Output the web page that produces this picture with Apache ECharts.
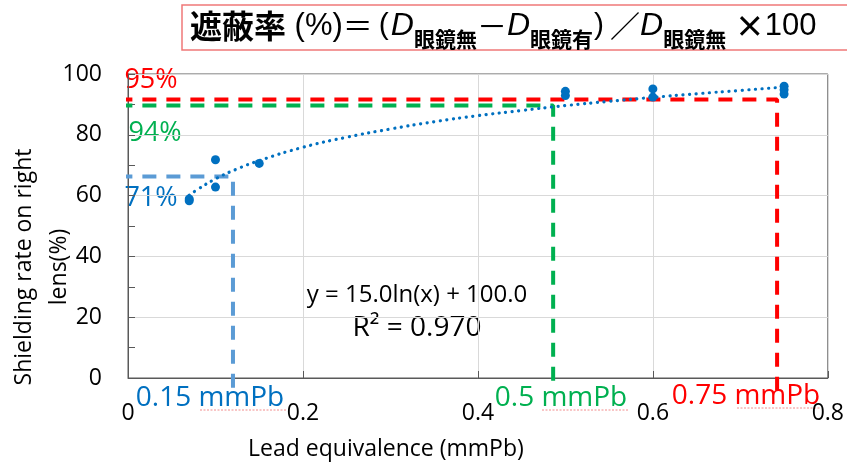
<!DOCTYPE html>
<html>
<head>
<meta charset="utf-8">
<script src="https://cdn.jsdelivr.net/npm/echarts@6/dist/echarts.min.js"></script>
<style>
  html, body { margin: 0; padding: 0; background: #fff; }
  #chart { width: 847px; height: 466px; }
</style>
</head>
<body>
<div id="chart"></div>
<script>
const chartElement = document.getElementById('chart');
const myChart = echarts.init(chartElement);

// measured points (lead equivalence, shielding rate)
const leadX = [0.07, 0.07, 0.1, 0.1, 0.15, 0.5, 0.5, 0.6, 0.6, 0.75, 0.75, 0.75];
const shieldY = [58.3, 58.9, 71.8, 62.8, 70.6, 94.3, 92.9, 95.1, 92.4, 96.0, 94.8, 93.4];

// log trendline
const trendX = [0.07, 0.08, 0.1, 0.125, 0.15, 0.2, 0.25, 0.3, 0.35, 0.4, 0.45, 0.5, 0.55, 0.6, 0.65, 0.7, 0.75];
const trendY = [60.1, 62.1, 65.5, 68.8, 71.5, 75.9, 79.2, 81.9, 84.3, 86.3, 88.0, 89.6, 91.0, 92.3, 93.5, 94.6, 95.7];

// dashed guide lines: level (%) and lead (mmPb), red / green / blue
const guideLevels = [91.6, 89.6, 66.3];
const guideLeads = [0.742, 0.486, 0.12];
const guideColors = ['#FF0000', '#00B050', '#5B9BD5'];

const xTicks = [0, 0.2, 0.4, 0.6, 0.8];
const yTicks = [0, 20, 40, 60, 80, 100];

const font = '"Open Sans", sans-serif';
const cjk = '"Noto Sans CJK JP", sans-serif';
const latin = '"Liberation Sans", sans-serif';

const guideSeries = guideLevels.map((lvl, i) => ({
    type: 'line',
    data: [[-0.011, lvl], [guideLeads[i], lvl], [guideLeads[i], -4]],
    showSymbol: false,
    clip: false,
    silent: true,
    z: 1,
    lineStyle: {color: guideColors[i], width: 4, type: [14, 10]},
}));

// spell-check squiggles under "mmPb"
const squiggle = (x1, x2, y) => ({
    type: 'line', silent: true,
    shape: {x1, y1: y, x2, y2: y},
    style: {stroke: '#F28C8C', lineWidth: 1, lineDash: [2, 1.5]},
});

const option = {
    animation: false,
    grid: {
        left: 128, right: 19, top: 74, bottom: 85,
        show: true, borderColor: '#595959', borderWidth: 1,
    },
    xAxis: {
        type: 'value',
        min: xTicks[0],
        max: xTicks[xTicks.length - 1],
        interval: 0.2,
        name: 'Lead equivalence (mmPb)',
        nameLocation: 'middle',
        nameGap: 60,
        nameTextStyle: {fontFamily: font, fontSize: 23, color: '#000', padding: [0, 184, 0, 0]},
        axisLine: {lineStyle: {color: '#595959'}},
        axisTick: {inside: true, length: 7, lineStyle: {color: '#595959'}},
        axisLabel: {fontFamily: font, fontSize: 23, color: '#000', margin: 24},
        splitLine: {lineStyle: {color: '#d9d9d9'}},
    },
    yAxis: {
        type: 'value',
        min: yTicks[0],
        max: yTicks[yTicks.length - 1],
        interval: 20,
        axisLine: {show: true, lineStyle: {color: '#595959'}},
        axisTick: {show: true, inside: true, length: 7, lineStyle: {color: '#595959'}},
        minorTick: {show: true, splitNumber: 2, length: 7, lineStyle: {color: '#595959'}},
        axisLabel: {fontFamily: font, fontSize: 23, color: '#000', margin: 26},
        splitLine: {lineStyle: {color: '#d9d9d9'}},
    },
    series: [
        ...guideSeries,
        {
            type: 'line',
            data: trendX.map((x, i) => [x, trendY[i]]),
            smooth: true,
            showSymbol: false,
            z: 3,
            lineStyle: {color: '#0070C0', width: 3.2, type: [0.1, 6.5], cap: 'round'},
        },
        {
            type: 'scatter',
            data: leadX.map((x, i) => [x, shieldY[i]]),
            symbolSize: 9,
            z: 4,
            itemStyle: {color: '#0070C0', opacity: 1},
        },
    ],
    graphic: [
        // formula box
        {
            type: 'rect',
            shape: {x: 182, y: 5, width: 700, height: 45},
            style: {fill: '#fff', stroke: '#F07878', lineWidth: 1.5},
        },
        {
            type: 'text', x: 190, y: 6,
            style: {
                text: '{a|遮蔽率}{p| (%)}{f|＝}{o|(}{d|D}{s|眼鏡無}{f|－}{d|D}{s|眼鏡有}{c|)}{f|／}{d|D}{s|眼鏡無}{p| }{x|×}{p|100}',
                rich: {
                    a: {fontFamily: cjk, fontWeight: 'bold', fontSize: 32, lineHeight: 40, fill: '#000'},
                    p: {fontFamily: latin, fontSize: 31, lineHeight: 40, fill: '#000'},
                    f: {fontFamily: cjk, fontSize: 30, lineHeight: 40, fill: '#000'},
                    o: {fontFamily: latin, fontSize: 30, lineHeight: 40, padding: [0, 2, 0, 6], fill: '#000'},
                    c: {fontFamily: latin, fontSize: 30, lineHeight: 40, padding: [0, 6, 0, 1], fill: '#000'},
                    d: {fontFamily: latin, fontStyle: 'italic', fontSize: 32, lineHeight: 40, fill: '#000'},
                    s: {fontFamily: cjk, fontWeight: 'bold', fontSize: 21, lineHeight: 22, padding: [26, 0, 0, 0], fill: '#000'},
                    x: {fontFamily: cjk, fontWeight: 'bold', fontSize: 30, lineHeight: 40, fill: '#000'},
                },
            },
        },
        // y axis name
        {
            type: 'text', x: 42, y: 267, rotation: Math.PI / 2,
            style: {
                text: 'Shielding rate on right\nlens(%)',
                fontFamily: font, fontSize: 23, lineHeight: 35, fill: '#000',
                align: 'center', verticalAlign: 'middle',
            },
        },
        // annotations
        {type: 'text', x: 151, y: 80, style: {text: '95%', fontFamily: font, fontSize: 27, fill: '#FF0000', align: 'center', verticalAlign: 'middle'}},
        {type: 'text', x: 155, y: 133, style: {text: '94%', fontFamily: font, fontSize: 27, fill: '#00B050', align: 'center', verticalAlign: 'middle'}},
        {type: 'text', x: 151, y: 198, style: {text: '71%', fontFamily: font, fontSize: 27, fill: '#0070C0', align: 'center', verticalAlign: 'middle'}},
        {type: 'text', x: 210, y: 398, style: {text: '0.15 mmPb', fontFamily: font, fontSize: 28, fill: '#0070C0', align: 'center', verticalAlign: 'middle'}},
        {type: 'text', x: 561, y: 398, style: {text: '0.5 mmPb', fontFamily: font, fontSize: 28, fill: '#00B050', align: 'center', verticalAlign: 'middle'}},
        {type: 'text', x: 746, y: 396, style: {text: '0.75 mmPb', fontFamily: font, fontSize: 28, fill: '#FF0000', align: 'center', verticalAlign: 'middle'}},
        squiggle(200, 287, 410),
        squiggle(542, 628, 410),
        squiggle(737, 820, 408),
        {type: 'text', x: 417, y: 295, style: {text: 'y = 15.0ln(x) + 100.0', fontFamily: font, fontSize: 24, fill: '#000', align: 'center', verticalAlign: 'middle'}},
        {type: 'text', x: 417, y: 328, style: {text: 'R² = 0.970', fontFamily: font, fontSize: 28, fill: '#000', align: 'center', verticalAlign: 'middle'}},
    ],
};

myChart.setOption(option);
</script>
</body>
</html>
